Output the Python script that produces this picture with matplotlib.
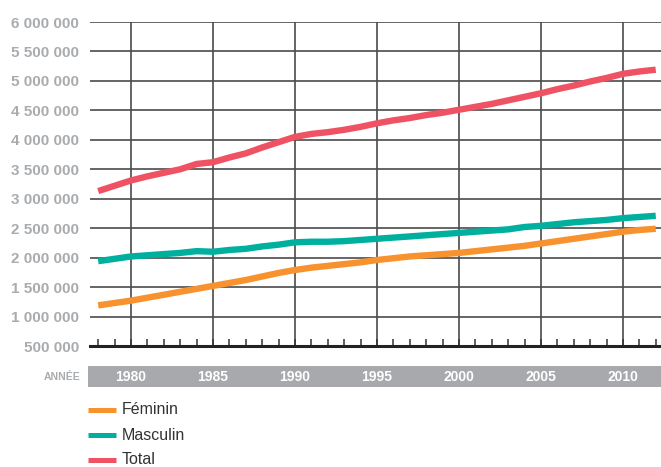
import matplotlib
matplotlib.use("Agg")
import matplotlib.pyplot as plt
from matplotlib.patches import Rectangle
from matplotlib.lines import Line2D
from matplotlib.transforms import blended_transform_factory

plt.rcParams['font.family'] = ['Liberation Sans', 'DejaVu Sans']

years = list(range(1978, 2013))
feminin = [1.19, 1.23, 1.27, 1.32, 1.37, 1.42, 1.47, 1.52, 1.57, 1.62, 1.68, 1.74, 1.79,
           1.83, 1.86, 1.89, 1.92, 1.96, 1.99, 2.02, 2.04, 2.06, 2.08, 2.11, 2.14, 2.17,
           2.20, 2.24, 2.28, 2.32, 2.36, 2.40, 2.44, 2.47, 2.49]
masculin = [1.94, 1.98, 2.02, 2.04, 2.06, 2.08, 2.11, 2.10, 2.13, 2.15, 2.19, 2.22, 2.26,
            2.27, 2.27, 2.28, 2.30, 2.32, 2.34, 2.36, 2.38, 2.40, 2.42, 2.44, 2.46, 2.48,
            2.52, 2.54, 2.57, 2.60, 2.62, 2.64, 2.67, 2.69, 2.71]
total = [3.13, 3.22, 3.31, 3.38, 3.44, 3.50, 3.59, 3.62, 3.70, 3.77, 3.87, 3.96, 4.05,
         4.10, 4.13, 4.17, 4.22, 4.28, 4.33, 4.37, 4.42, 4.46, 4.51, 4.56, 4.61, 4.67,
         4.73, 4.79, 4.86, 4.92, 4.99, 5.05, 5.12, 5.16, 5.19]
series_names = ["Féminin", "Masculin", "Total"]
series_values = [feminin, masculin, total]
series_colors = ["#f7922f", "#00b09f", "#ef5363"]
y_ticks = [500000 * k for k in range(1, 13)]
year_labels = [1980, 1985, 1990, 1995, 2000, 2005, 2010]
axis_title = "ANNÉE"

W, H = 661, 467
fig = plt.figure(figsize=(W / 100, H / 100), dpi=100)
left, right, top, bottom = 90, 661, 22, 346
ax = fig.add_axes([left / W, 1 - bottom / H, (right - left) / W, (bottom - top) / H])
ax.set_xlim(1977.5, 2012.32)
ax.set_ylim(500000, 6000000)

for name, vals, col in zip(series_names, series_values, series_colors):
    ax.plot(years, [v * 1e6 for v in vals], color=col, lw=4.6,
            solid_capstyle='butt', solid_joinstyle='round', zorder=3)

for s in ['top', 'right', 'left']:
    ax.spines[s].set_visible(False)
ax.spines['bottom'].set_linewidth(2.2)
ax.spines['bottom'].set_color('#222222')

ax.set_yticks(y_ticks)
ax.set_yticklabels([f"{v:,}".replace(",", " ") for v in y_ticks])
ax.tick_params(axis='y', length=0, pad=8, labelsize=11, labelcolor='#a9acaf')
for lab in ax.get_yticklabels():
    lab.set_fontweight('bold')
for v in y_ticks[1:]:
    ax.axhline(v, color='#3c3c3c', lw=1.1, zorder=1)
for yr in year_labels:
    ax.axvline(yr, color='#4a4a4a', lw=1.2, zorder=1)

ax.set_xticks(years)
ax.set_xticklabels([])
ax.tick_params(axis='x', direction='in', length=5, width=1.1, color='#333333')

# band with year labels
fig.patches.append(Rectangle((88 / W, 1 - 387 / H), (W - 88) / W, 21 / H,
                             transform=fig.transFigure, facecolor='#a7a9ac',
                             edgecolor='none', zorder=0))
tr = blended_transform_factory(ax.transData, fig.transFigure)
for yr in year_labels:
    fig.text(0, 1 - 377 / H, str(yr), transform=tr, ha='center', va='center',
             color='white', fontsize=10, fontweight='bold')
    fig.texts[-1].set_x(yr)
fig.text(80 / W, 1 - 377 / H, axis_title, ha='right', va='center', color='#a9acaf',
         fontsize=7.5, fontweight='bold')

# legend
rows = [410, 435, 460]
for name, col, yy in zip(series_names, series_colors, rows):
    fig.lines.append(Line2D([88 / W, 116 / W], [1 - yy / H, 1 - yy / H],
                            transform=fig.transFigure, color=col, lw=3.6,
                            solid_capstyle='butt'))
    fig.text(122 / W, 1 - yy / H, name, ha='left', va='center', color='#333333',
             fontsize=11.5)

fig.savefig("out.png", dpi=100)
